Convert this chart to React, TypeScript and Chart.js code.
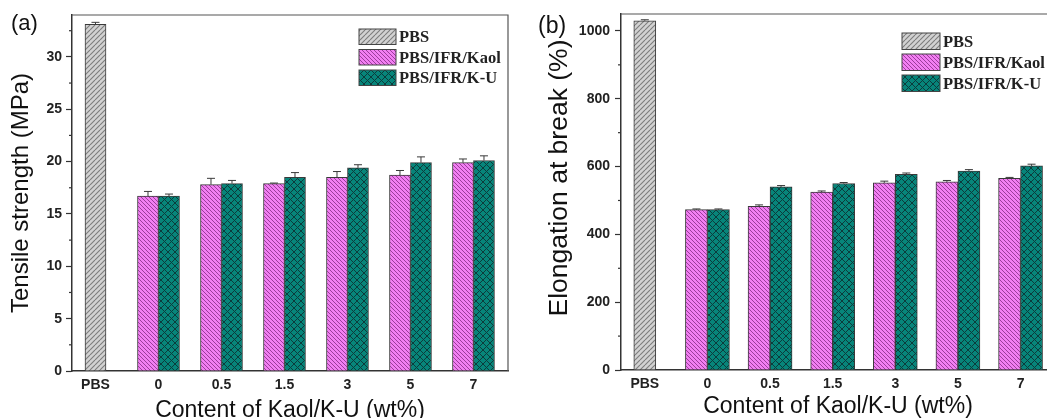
import { useEffect, useRef } from 'react';
import { Chart, registerables } from 'chart.js';

Chart.register(...registerables);

// ---------- data ----------
const categories = ['PBS', '0', '0.5', '1.5', '3', '5', '7'];
const seriesLabels = ['PBS', 'PBS/IFR/Kaol', 'PBS/IFR/K-U'];

const tensilePBS = [33.1, null, null, null, null, null, null];
const tensileKaol = [null, 16.7, 17.8, 17.9, 18.5, 18.7, 19.9];
const tensileKU = [null, 16.7, 17.9, 18.5, 19.4, 19.9, 20.1];
const tensilePBSErr = [0.2, 0, 0, 0, 0, 0, 0];
const tensileKaolErr = [0, 0.45, 0.6, 0.05, 0.55, 0.45, 0.35];
const tensileKUErr = [0, 0.2, 0.3, 0.45, 0.3, 0.55, 0.45];
const tensileTicks = [0, 5, 10, 15, 20, 25, 30];

const elongPBS = [1030, null, null, null, null, null, null];
const elongKaol = [null, 473, 483, 525, 552, 555, 565];
const elongKU = [null, 473, 540, 550, 577, 587, 602];
const elongPBSErr = [3, 0, 0, 0, 0, 0, 0];
const elongKaolErr = [0, 2, 4, 3, 5, 4, 3];
const elongKUErr = [0, 2, 4, 3, 4, 4, 5];
const elongTicks = [0, 200, 400, 600, 800, 1000];

// ---------- styling helpers ----------
const SANS = '"Liberation Sans", Arial, Helvetica, sans-serif';
const SERIF = '"Liberation Serif", "Times New Roman", serif';
const AXIS = '#333333';

function hatch(bg: string, fg: string, size: number, dirs: string[], lw: number) {
  const c = document.createElement('canvas');
  c.width = size;
  c.height = size;
  const g = c.getContext('2d') as CanvasRenderingContext2D;
  g.fillStyle = bg;
  g.fillRect(0, 0, size, size);
  g.strokeStyle = fg;
  g.lineWidth = lw;
  for (const d of dirs) {
    for (let k = -1; k <= 1; k++) {
      g.beginPath();
      if (d === '/') {
        g.moveTo(k * size, size);
        g.lineTo(k * size + size, 0);
      } else {
        g.moveTo(k * size, 0);
        g.lineTo(k * size + size, size);
      }
      g.stroke();
    }
  }
  return g.createPattern(c, 'repeat') as CanvasPattern;
}

const extrasPlugin = {
  id: 'extras',
  afterDatasetsDraw(chart: any, _a: any, opts: any) {
    const ctx = chart.ctx;
    const yScale = chart.scales.y;
    ctx.save();
    ctx.strokeStyle = '#3a3a3a';
    ctx.lineWidth = 1;
    chart.data.datasets.forEach((ds: any, di: number) => {
      const meta = chart.getDatasetMeta(di);
      meta.data.forEach((bar: any, i: number) => {
        const v = ds.data[i].y;
        const e = ds.errors ? ds.errors[i] : 0;
        if (v == null || !e) return;
        const x = bar.x;
        const y0 = yScale.getPixelForValue(v);
        const y1 = yScale.getPixelForValue(v + e);
        ctx.beginPath();
        ctx.moveTo(x, y0);
        ctx.lineTo(x, y1);
        ctx.moveTo(x - opts.cap, y1);
        ctx.lineTo(x + opts.cap, y1);
        ctx.stroke();
      });
    });
    ctx.restore();
  },
  afterDraw(chart: any, _a: any, opts: any) {
    const ctx = chart.ctx;
    const area = chart.chartArea;
    const yScale = chart.scales.y;
    ctx.save();
    // frame top / right
    ctx.strokeStyle = '#555';
    ctx.lineWidth = 1.2;
    ctx.beginPath();
    ctx.moveTo(area.left, area.top);
    ctx.lineTo(area.right, area.top);
    ctx.lineTo(area.right, area.bottom);
    ctx.stroke();
    // minor ticks
    const t = opts.ticks as number[];
    const step = t[1] - t[0];
    ctx.strokeStyle = AXIS;
    ctx.lineWidth = 1.2;
    for (let i = 0; i < t.length; i++) {
      const mv = t[i] + step / 2;
      if (mv > yScale.max) continue;
      const py = yScale.getPixelForValue(mv);
      ctx.beginPath();
      ctx.moveTo(area.left - 3, py);
      ctx.lineTo(area.left, py);
      ctx.stroke();
    }
    // y-axis title
    const yt = opts.yTitle;
    ctx.save();
    ctx.translate(yt.x, yt.cy);
    ctx.rotate(-Math.PI / 2);
    ctx.fillStyle = '#111';
    ctx.font = `${yt.size}px ${SANS}`;
    ctx.textAlign = 'center';
    ctx.textBaseline = 'middle';
    ctx.fillText(yt.text, 0, 0);
    ctx.restore();
    // legend
    const lg = opts.legend;
    chart.data.datasets.forEach((ds: any, i: number) => {
      const bx = area.left + lg.left;
      const by = area.top + lg.top + i * lg.pitch;
      ctx.fillStyle = ds.backgroundColor;
      ctx.fillRect(bx, by, lg.w, lg.h);
      ctx.strokeStyle = '#444';
      ctx.lineWidth = 1;
      ctx.strokeRect(bx, by, lg.w, lg.h);
      ctx.fillStyle = '#222';
      ctx.font = `bold ${lg.font}px ${SERIF}`;
      ctx.textAlign = 'left';
      ctx.textBaseline = 'middle';
      ctx.fillText(ds.label, bx + lg.w + 3, by + lg.h / 2 + 1);
    });
    // panel letter
    ctx.fillStyle = '#111';
    ctx.font = `${opts.letterSize}px ${SANS}`;
    ctx.textAlign = 'left';
    ctx.textBaseline = 'alphabetic';
    ctx.fillText(opts.letter, opts.letterX, opts.letterY);
    ctx.restore();
  },
};

function makeChart(canvas: HTMLCanvasElement, p: any) {
  const gray = hatch('#d2d2d2', '#7c7c7c', 5, ['/'], 1.1);
  const pink = hatch('#f27ff2', '#9c3c9c', 4, ['\\'], 1);
  const teal = hatch('#07857a', '#0c3c3c', 7, ['/', '\\'], 1);
  const fills = [gray, pink, teal];
  const values = p.values as (number | null)[][];
  const errors = p.errors as number[][];
  const datasets = values.map((vals, k) => ({
    label: seriesLabels[k],
    data: vals.map((y, i) => ({ x: i, y })),
    backgroundColor: fills[k],
    borderColor: '#3a3a3a',
    borderWidth: 1,
    barThickness: p.barW,
    skipNull: true,
    errors: errors[k],
  }));
  return new Chart(canvas, {
    type: 'bar',
    data: { datasets } as any,
    plugins: [extrasPlugin],
    options: {
      responsive: false,
      animation: false,
      devicePixelRatio: 1,
      layout: { padding: p.padding },
      datasets: { bar: { skipNull: true } } as any,
      plugins: {
        legend: { display: false },
        tooltip: { enabled: false },
        extras: {
          cap: 4,
          ticks: p.yTicks,
          legend: p.legend,
          yTitle: p.yTitle,
          letter: p.letter,
          letterX: p.letterX,
          letterY: p.letterY,
          letterSize: p.letterSize,
        },
      } as any,
      scales: {
        x: {
          type: 'linear',
          min: p.xMin,
          max: p.xMax,
          offset: false,
          afterBuildTicks: (s: any) => {
            s.ticks = categories.map((_c, i) => ({ value: i }));
          },
          afterFit: (s: any) => {
            s.height = p.xAxisH;
          },
          grid: { display: false, drawTicks: false },
          border: { display: true, color: AXIS, width: 1.5 },
          ticks: {
            autoSkip: false,
            maxRotation: 0,
            padding: 6,
            color: '#222',
            font: { family: SANS, size: 14, weight: 'bold' },
            callback: (v: any) => categories[Math.round(Number(v))],
          },
          title: {
            display: true,
            text: 'Content of Kaol/K-U (wt%)',
            color: '#111',
            font: { family: SANS, size: p.xTitleSize, lineHeight: 1.2 },
            padding: { top: 0, bottom: 0 },
          },
        },
        y: {
          min: 0,
          max: p.yMax,
          afterBuildTicks: (s: any) => {
            s.ticks = p.yTicks.map((v: number) => ({ value: v }));
          },
          afterFit: (s: any) => {
            s.width = p.yAxisW;
          },
          grid: {
            display: true,
            drawOnChartArea: false,
            drawTicks: true,
            tickLength: 6,
            tickColor: AXIS,
            tickWidth: 1.2,
          },
          border: { display: true, color: AXIS, width: 1.5 },
          ticks: {
            padding: p.yLabelPad,
            color: '#222',
            font: { family: SANS, size: 14, weight: 'bold' },
            callback: (v: any) => String(v),
          },
          title: { display: false },
        },
      },
    } as any,
  });
}

export default function App() {
  const aRef = useRef<HTMLCanvasElement>(null);
  const bRef = useRef<HTMLCanvasElement>(null);

  useEffect(() => {
    const ca = makeChart(aRef.current as HTMLCanvasElement, {
      values: [tensilePBS, tensileKaol, tensileKU],
      errors: [tensilePBSErr, tensileKaolErr, tensileKUErr],
      yTicks: tensileTicks,
      yMax: 34,
      xMin: -0.373,
      xMax: 6.548,
      barW: 21,
      padding: { left: 0, right: 12, top: 15, bottom: 0 },
      xAxisH: 53,
      yAxisW: 72,
      yLabelPad: 4,
      yTitle: { text: 'Tensile strength (MPa)', size: 24, x: 21, cy: 193 },
      xTitleSize: 23,
      legend: { left: 287, top: 14, w: 37, h: 15.5, pitch: 20.5, font: 16.5 },
      letter: '(a)',
      letterX: 11,
      letterY: 29.5,
      letterSize: 22,
    });
    const cb = makeChart(bRef.current as HTMLCanvasElement, {
      values: [elongPBS, elongKaol, elongKU],
      errors: [elongPBSErr, elongKaolErr, elongKUErr],
      yTicks: elongTicks,
      yMax: 1050,
      xMin: -0.38,
      xMax: 6.55,
      barW: 22,
      padding: { left: 0, right: 25, top: 14, bottom: 0 },
      xAxisH: 50,
      yAxisW: 101,
      yLabelPad: 5,
      yTitle: { text: 'Elongation at break (%)', size: 26.5, x: 40, cy: 178 },
      xTitleSize: 23,
      legend: { left: 281, top: 19, w: 38, h: 16.5, pitch: 21, font: 16.5 },
      letter: '(b)',
      letterX: 18,
      letterY: 33,
      letterSize: 23,
    });
    return () => {
      ca.destroy();
      cb.destroy();
    };
  }, []);

  return (
    <div
      style={{
        position: 'fixed',
        left: 0,
        top: 0,
        width: 1047,
        height: 418,
        overflow: 'hidden',
        background: '#ffffff',
      }}
    >
      <div style={{ position: 'absolute', left: 0, top: 0, width: 520, height: 424 }}>
        <canvas ref={aRef} width={520} height={424} style={{ width: 520, height: 424, display: 'block' }} />
      </div>
      <div style={{ position: 'absolute', left: 520, top: 0, width: 560, height: 420 }}>
        <canvas ref={bRef} width={560} height={420} style={{ width: 560, height: 420, display: 'block' }} />
      </div>
    </div>
  );
}
